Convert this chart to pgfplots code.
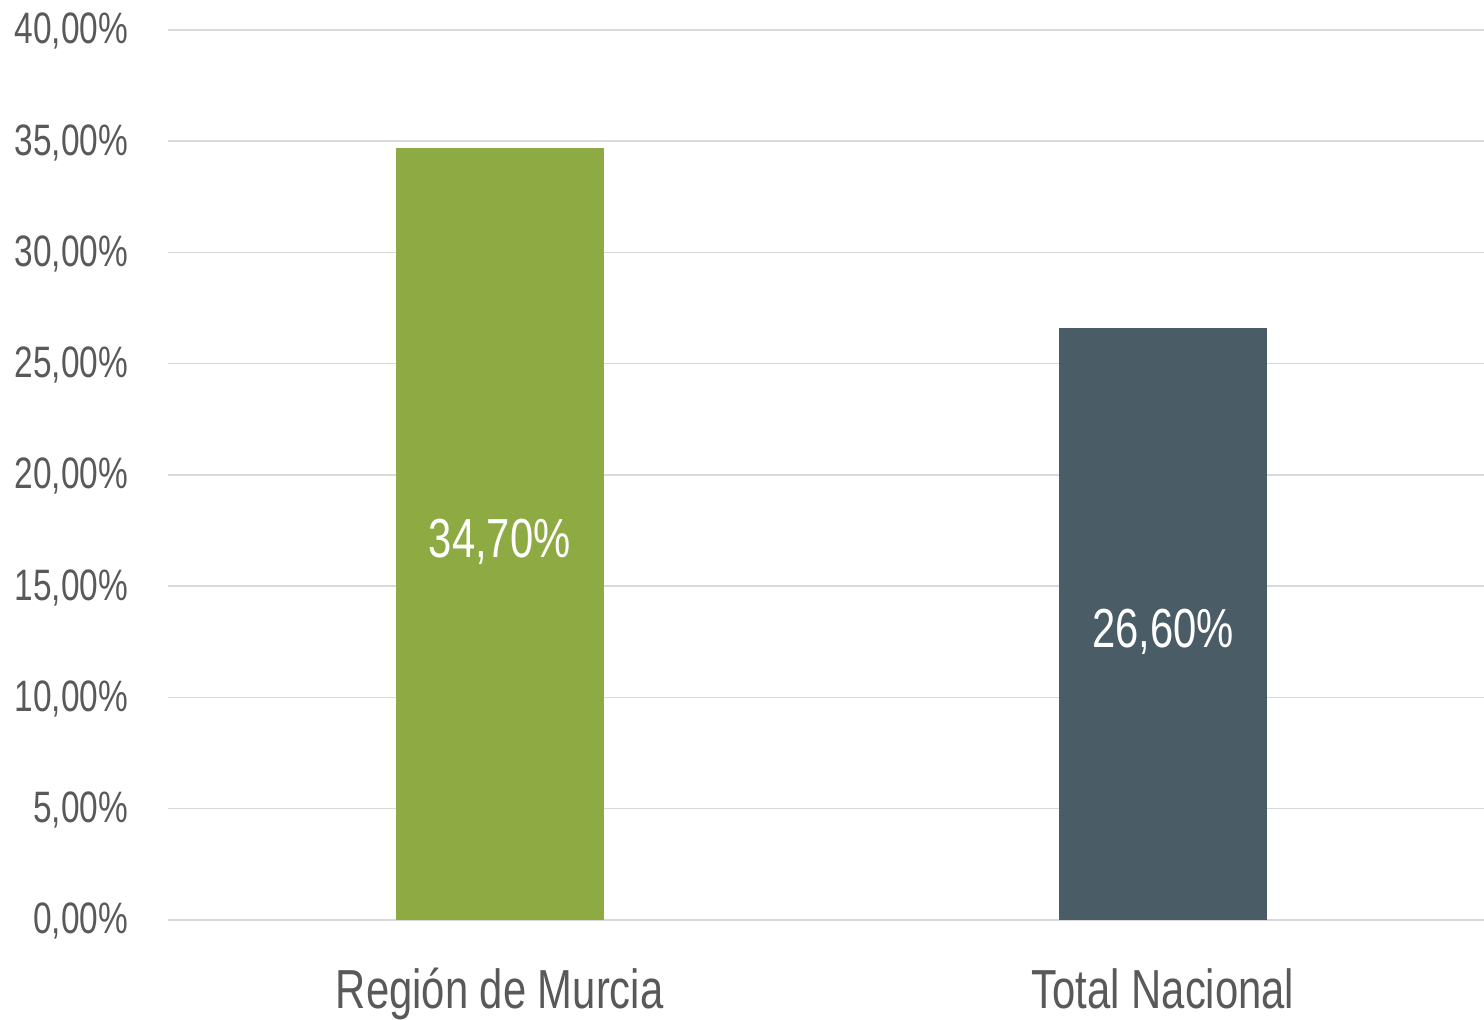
\documentclass[border=0pt]{standalone}
\usepackage{fontspec}
\setmainfont[FakeStretch=0.76]{Liberation Sans}
\usepackage{pgfplots}
\pgfplotsset{compat=1.18}
\definecolor{gridc}{HTML}{D9D9D9}
\definecolor{txtc}{HTML}{595959}
\definecolor{barA}{HTML}{8DAA43}
\definecolor{barB}{HTML}{4A5C66}
\begin{document}
\begin{tikzpicture}
\useasboundingbox (0,0) rectangle (742pt,510pt);
\begin{axis}[
  at={(84pt,50pt)}, anchor=south west,
  width=658pt, height=445pt, scale only axis,
  xmin=-0.5, xmax=1.484, ymin=0, ymax=40,
  ytick={0,5,...,40},
  xtick={0,1}, xticklabels={Región de Murcia, Total Nacional},
  axis line style={draw=none},
  major tick style={draw=none},
  ymajorgrids, grid style={gridc, line width=0.75pt},
  /pgf/number format/assume math mode=true,
  yticklabel={\pgfmathprintnumber[fixed,fixed zerofill,precision=2,use comma]{\tick}\%},
  yticklabel style={font=\fontsize{22}{24}\selectfont, text=txtc, inner sep=0pt, anchor=east, xshift=-19.8pt, yshift=-0.7pt},
  xticklabel style={font=\fontsize{27.5}{30}\selectfont, text=txtc, inner sep=0pt, anchor=north, yshift=-24pt},
  clip=false,
]
\addplot[ybar, bar width=104pt, bar shift=0pt, fill=barA, draw=none] coordinates {(0,34.7)};
\addplot[ybar, bar width=104pt, bar shift=0pt, fill=barB, draw=none] coordinates {(1,26.6)};
\addplot[draw=none, mark=none, nodes near coords, point meta=explicit symbolic,
  nodes near coords style={anchor=center, text=white, font=\fontsize{27.5}{30}\selectfont, inner sep=0pt, yshift=-4pt}]
  coordinates {(0,17.35)[34,70\%] (1,13.3)[26,60\%]};
\end{axis}
\end{tikzpicture}
\end{document}
